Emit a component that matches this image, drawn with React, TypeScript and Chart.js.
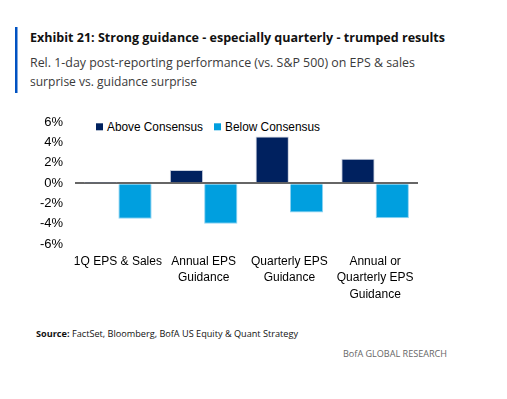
import React, { useEffect, useRef } from "react";
import { Chart, registerables } from "chart.js";

Chart.register(...registerables);

// ---- data ----
const categories: string[][] = [
  ["1Q EPS & Sales"],
  ["Annual EPS", "Guidance"],
  ["Quarterly EPS", "Guidance"],
  ["Annual or", "Quarterly EPS", "Guidance"],
];
const seriesNames = ["Above Consensus", "Below Consensus"];
const aboveConsensus = [0.05, 1.3, 4.6, 2.4];
const belowConsensus = [-3.5, -4.0, -2.9, -3.45];
const yMin = -6;
const yMax = 6;
const yStep = 2;

const NAVY = "#00215F";
const LIGHT = "#009FDF";

export default function App() {
  const ref = useRef<HTMLCanvasElement>(null);

  useEffect(() => {
    if (!ref.current) return;
    const tickFont = { family: "'Liberation Sans', Arial, sans-serif", size: 13 };
    const chart = new Chart(ref.current, {
      type: "bar",
      data: {
        labels: categories,
        datasets: [
          {
            label: seriesNames[0],
            data: aboveConsensus,
            backgroundColor: NAVY,
            borderColor: "#c9d0de",
            borderWidth: 1,
            categoryPercentage: 0.8,
            barPercentage: 0.97,
          },
          {
            label: seriesNames[1],
            data: belowConsensus,
            backgroundColor: LIGHT,
            borderColor: "#8fd3f2",
            borderWidth: 1,
            categoryPercentage: 0.8,
            barPercentage: 0.97,
          },
        ],
      },
      options: {
        responsive: false,
        animation: false,
        layout: { padding: { left: 35, right: 89, top: 22.3, bottom: 16 } },
        plugins: { legend: { display: false }, tooltip: { enabled: false } },
        scales: {
          x: {
            grid: { display: false, drawTicks: false },
            border: { display: false },
            ticks: {
              color: "#000",
              font: { family: "'Liberation Sans', Arial, sans-serif", size: 12, lineHeight: 1.375 },
              padding: 9,
              maxRotation: 0,
              autoSkip: false,
            },
            afterFit: (s: any) => {
              s.height = 60;
            },
          },
          y: {
            min: yMin,
            max: yMax,
            ticks: {
              stepSize: yStep,
              color: "#000",
              font: tickFont,
              padding: 12,
              callback: (v: any) => `${v}%`,
            },
            grid: {
              drawTicks: false,
              lineWidth: 2,
              color: (ctx: any) => (ctx.tick && ctx.tick.value === 0 ? "#666666" : "rgba(0,0,0,0)"),
            },
            border: { display: false },
            afterFit: (s: any) => {
              s.width = 40;
            },
          },
        },
      },
    });
    return () => chart.destroy();
  }, []);

  const sans = "'Open Sans', 'Noto Sans', sans-serif";
  const legendFont = "'Liberation Sans', Arial, sans-serif";

  return (
    <div style={{ position: "absolute", left: 0, top: 0, width: 507, height: 399, background: "#fff", overflow: "hidden" }}>
      <svg width={507} height={399} style={{ position: "absolute", left: 0, top: 0 }}>
        <rect x={15} y={27} width={2.5} height={66} fill="#0052C2" />
        <text x={30} y={41.8} fontFamily={sans} fontSize={13} fontWeight={700} fill="#111" textLength={415} lengthAdjust="spacingAndGlyphs">
          Exhibit 21: Strong guidance - especially quarterly - trumped results
        </text>
        <text x={30} y={66.7} fontFamily={sans} fontSize={13} fill="#3a3a3a" textLength={385} lengthAdjust="spacingAndGlyphs">
          Rel. 1-day post-reporting performance (vs. S&amp;P 500) on EPS &amp; sales
        </text>
        <text x={30} y={86.2} fontFamily={sans} fontSize={13} fill="#3a3a3a" textLength={167} lengthAdjust="spacingAndGlyphs">
          surprise vs. guidance surprise
        </text>
        <rect x={96} y={123.3} width={7} height={7} fill={NAVY} />
        <text x={107} y={130.8} fontFamily={legendFont} fontSize={12.5} fill="#000" textLength={96} lengthAdjust="spacingAndGlyphs">
          {seriesNames[0]}
        </text>
        <rect x={214} y={123.3} width={7} height={7} fill={LIGHT} />
        <text x={225} y={130.8} fontFamily={legendFont} fontSize={12.5} fill="#000" textLength={95} lengthAdjust="spacingAndGlyphs">
          {seriesNames[1]}
        </text>
        <text x={36} y={337} fontFamily={sans} fontSize={9.5} fill="#111" textLength={262} lengthAdjust="spacingAndGlyphs">
          <tspan fontWeight={700}>Source:</tspan> FactSet, Bloomberg, BofA US Equity &amp; Quant Strategy
        </text>
        <text x={343} y={356.7} fontFamily={sans} fontSize={9.3} fill="#666" textLength={104} lengthAdjust="spacingAndGlyphs">
          BofA GLOBAL RESEARCH
        </text>
      </svg>
      <canvas ref={ref} width={507} height={220} style={{ position: "absolute", left: 0, top: 100, width: 507, height: 220 }} />
    </div>
  );
}
